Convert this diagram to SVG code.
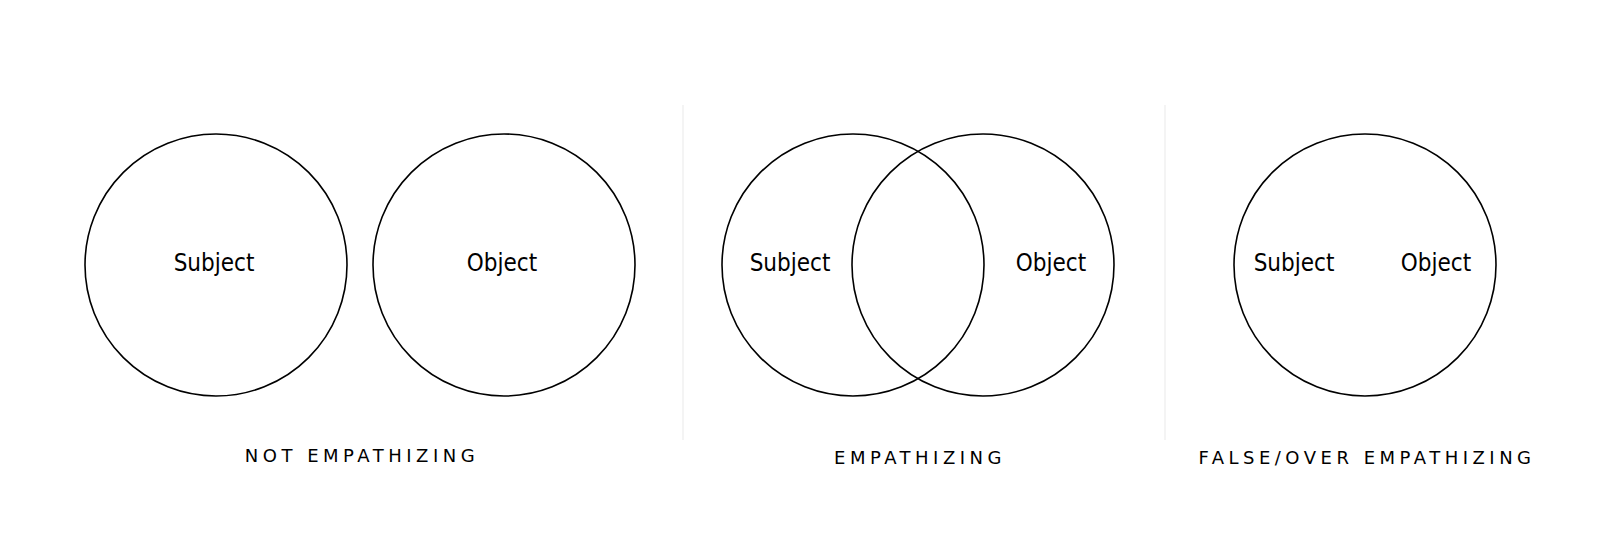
<svg xmlns="http://www.w3.org/2000/svg" width="1600" height="560" viewBox="0 0 1600 560">
<style>
.c{fill:none;stroke:#000;stroke-width:1.6}
.t{font-family:"DejaVu Sans Condensed","Liberation Sans",sans-serif;font-size:24px;text-anchor:middle;fill:#000}
.l{font-family:"DejaVu Sans","Liberation Sans",sans-serif;font-size:18px;letter-spacing:4.5px;text-anchor:middle;fill:#000}
.d{stroke:#f0f0f0;stroke-width:1.5}
</style>
<rect width="1600" height="560" fill="#fff"/>
<g id="connectors"></g>
<line class="d" x1="683" y1="105" x2="683" y2="440"/>
<line class="d" x1="1165" y1="105" x2="1165" y2="440"/>
<g id="not-subject"><circle class="c" cx="216" cy="265" r="131"/><text class="t" x="214" y="271">Subject</text></g>
<g id="not-object"><circle class="c" cx="504" cy="265" r="131"/><text class="t" x="502" y="271">Object</text></g>
<text class="l" x="362" y="462">NOT EMPATHIZING</text>
<g id="emp-subject"><circle class="c" cx="853" cy="265" r="131"/><text class="t" x="790" y="271">Subject</text></g>
<g id="emp-object"><circle class="c" cx="983" cy="265" r="131"/><text class="t" x="1051" y="271">Object</text></g>
<text class="l" x="920" y="464">EMPATHIZING</text>
<g id="false-circle"><circle class="c" cx="1365" cy="265" r="131"/><text class="t" x="1294" y="271">Subject</text><text class="t" x="1436" y="271">Object</text></g>
<text class="l" x="1367" y="464">FALSE/OVER EMPATHIZING</text>
</svg>
